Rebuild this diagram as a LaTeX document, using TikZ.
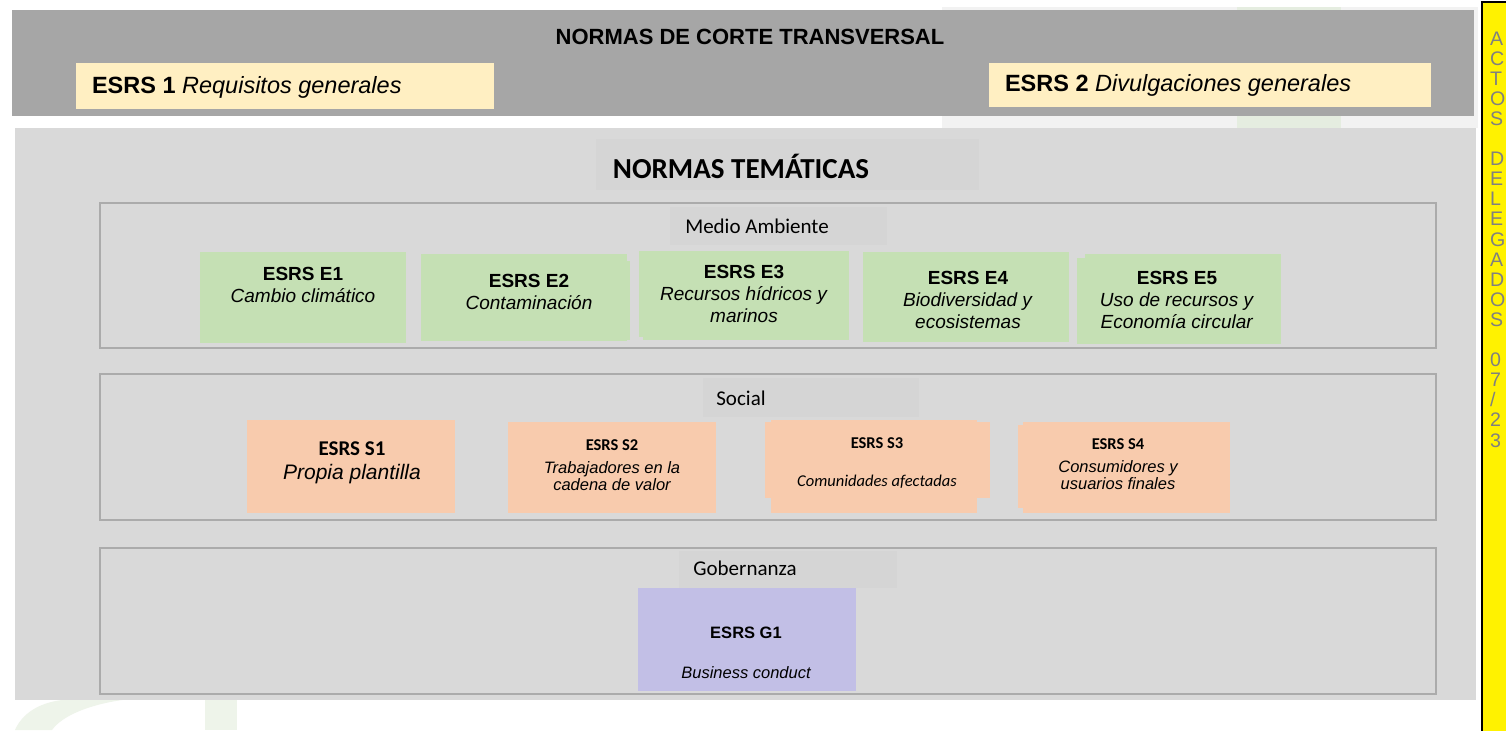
\documentclass[tikz,border=0pt]{standalone}
\usepackage{fontspec}
\setmainfont{Liberation Sans}
\newfontfamily\calfont{Carlito}
\definecolor{band}{HTML}{A6A6A6}
\definecolor{panel}{HTML}{D9D9D9}
\definecolor{lblgray}{HTML}{D5D5D5}
\definecolor{secline}{HTML}{ABABAB}
\definecolor{cream}{HTML}{FFEFC2}
\definecolor{egreen}{HTML}{C5E0B4}
\definecolor{sorange}{HTML}{F8CBAD}
\definecolor{gpurple}{HTML}{C2BFE6}
\definecolor{wmgreen}{HTML}{EEF4EA}
\definecolor{wmgray}{HTML}{F2F2F2}
\definecolor{wmgreen2}{HTML}{E5EDE0}
\definecolor{lettergray}{HTML}{808080}
\begin{document}
\begin{tikzpicture}[x=0.5pt,y=-0.5pt,
  every node/.style={inner sep=0pt, outer sep=0pt, text=black},
  sec/.style={draw=secline, line width=1pt},
  etext/.style={font=\fontsize{9.5}{11}\selectfont, align=center},
  stitle/.style={font=\calfont\bfseries\fontsize{8.25}{9.5}\selectfont},
  sdesc/.style={font=\itshape\fontsize{8.25}{8.75}\selectfont, align=center},
  lbl/.style={font=\calfont\fontsize{10.5}{12}\selectfont},
  vletter/.style={anchor=base west, text=lettergray, font=\fontsize{9.8}{10}\selectfont}]
\useasboundingbox (0,0) rectangle (1506,730);
\fill[white] (0,0) rectangle (1506,730);
% faint watermark
\fill[wmgray] (942,7) rectangle (1478,128);
\fill[wmgreen2] (1237,7) rectangle (1341,128);
\fill[wmgreen] (15,730) .. controls (22,714) and (38,703) .. (62,700) -- (122,700) .. controls (88,705) and (62,716) .. (52,730) -- cycle;
\fill[wmgreen] (205,700) rectangle (237,730);
% cross-cutting band
\fill[band] (12,10) rectangle (1474,116);
\node (cross) at (750,37) {\fontsize{11}{13}\selectfont\bfseries NORMAS DE CORTE TRANSVERSAL};
\fill[cream] (76,63) rectangle (494,109);
\node[anchor=west] (esrs1) at (92,87) {\fontsize{11.75}{14}\selectfont\textbf{ESRS 1} \textit{Requisitos generales}};
\fill[cream] (989,63) rectangle (1431,107);
\node[anchor=west] (esrs2) at (1005,85) {\fontsize{11.75}{14}\selectfont\textbf{ESRS 2} \textit{Divulgaciones generales}};
% thematic panel
\fill[panel] (15,128) rectangle (1476,700);
\fill[lblgray] (596,139) rectangle (979,190);
\node (tema) at (741,166) {\calfont\bfseries\fontsize{14.5}{17}\selectfont NORMAS TEMÁTICAS};
% sections
\draw[sec] (100,203) rectangle (1436,348);
\draw[sec] (100,374) rectangle (1436,520);
\draw[sec] (100,548) rectangle (1436,694);
\fill[lblgray] (670,207) rectangle (887,245);
\fill[lblgray] (703,378) rectangle (919,417);
\fill[lblgray] (679,551) rectangle (897,588);
\node[lbl] (medio) at (757,226) {Medio Ambiente};
\node[lbl] (social) at (741,398) {Social};
\node[lbl] (gob) at (745,568) {Gobernanza};
% environment boxes
\fill[egreen] (200,252) rectangle (406,343);
\fill[egreen] (421,254) rectangle (627,341);
\fill[egreen] (626,261) rectangle (630,340);
\fill[egreen] (639,251) rectangle (849,337);
\fill[egreen] (643,251) rectangle (849,340);
\fill[egreen] (863,252) rectangle (1069,342);
\fill[egreen] (1077,258) rectangle (1281,344);
\fill[egreen] (1085,254) rectangle (1281,344);
\node[etext] (e1) at (303,285) {\textbf{ESRS E1}\\\textit{Cambio climático}};
\node[etext] (e2) at (529,292) {\textbf{ESRS E2}\\\textit{Contaminación}};
\node[etext] (e3) at (744,294) {\textbf{ESRS E3}\\\textit{Recursos hídricos y}\\\textit{marinos}};
\node[etext] (e4) at (968,300) {\textbf{ESRS E4}\\\textit{Biodiversidad y}\\\textit{ecosistemas}};
\node[etext] (e5) at (1177,300) {\textbf{ESRS E5}\\\textit{Uso de recursos y}\\\textit{Economía circular}};
% social boxes
\fill[sorange] (247,420) rectangle (455,513);
\fill[sorange] (508,422) rectangle (716,513);
\fill[sorange] (765,422) rectangle (990,498);
\fill[sorange] (771,420) rectangle (977,513);
\fill[sorange] (1018,425) rectangle (1230,508);
\fill[sorange] (1023,422) rectangle (1230,513);
\node[font=\calfont\bfseries\fontsize{10.5}{12}\selectfont] (s1t) at (352,449) {ESRS S1};
\node[font=\itshape\fontsize{10.5}{12}\selectfont] (s1d) at (352,474) {Propia plantilla};
\node[stitle] (s2t) at (612,445) {ESRS S2};
\node[sdesc] (s2d) at (612,476) {Trabajadores en la\\cadena de valor};
\node[stitle] (s3t) at (877,443) {ESRS S3};
\node[font=\calfont\itshape\fontsize{8.25}{9.5}\selectfont] (s3d) at (877,482) {Comunidades afectadas};
\node[stitle] (s4t) at (1118,444) {ESRS S4};
\node[sdesc] (s4d) at (1118,475) {Consumidores y\\usuarios finales};
% governance box
\fill[gpurple] (638,588) rectangle (856,691);
\node[font=\bfseries\fontsize{8.25}{10}\selectfont] (g1t) at (746,633) {ESRS G1};
\node[font=\itshape\fontsize{8.25}{10}\selectfont] (g1d) at (746,673) {Business conduct};
% right yellow strip
\begin{scope}
\clip (0,0) rectangle (1506,730);
\filldraw[fill=yellow, draw=black, line width=1.2pt] (1482,2) rectangle (1520,740);
\foreach \ch/\r in {A/0,C/1,T/2,O/3,S/4,D/6,E/7,L/8,E/9,G/10,A/11,D/12,O/13,S/14,0/16,7/17,2/19,3/20}
  \node[vletter] (v\r) at (1490,{45+20.1*\r}) {\ch};
\node[vletter] (v18) at (1490,{45+20.1*18}) {/};
\end{scope}
\end{tikzpicture}
\end{document}
